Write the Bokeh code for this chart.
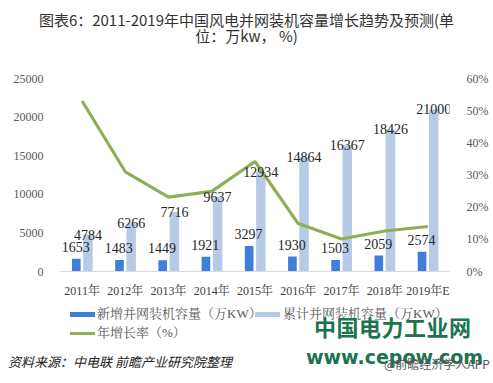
from bokeh.plotting import figure
from bokeh.layouts import column
from bokeh.models import (ColumnDataSource, FactorRange, Range1d, LinearAxis, Div,
                          FixedTicker, PrintfTickFormatter)
from bokeh.transform import dodge
from bokeh.core.properties import value
from bokeh.embed import file_html
from bokeh.resources import INLINE

years = ["2011年", "2012年", "2013年", "2014年", "2015年", "2016年", "2017年", "2018年", "2019年E"]
new_cap = [1653, 1483, 1449, 1921, 3297, 1930, 1503, 2059, 2574]
cum_cap = [4784, 6266, 7716, 9637, 12934, 14864, 16367, 18426, 21000]
growth = [53.0, 31.0, 23.1, 24.9, 34.2, 14.9, 10.1, 12.6, 14.0]
left_ticks = [0, 5000, 10000, 15000, 20000, 25000]
right_ticks = [0, 10, 20, 30, 40, 50, 60]

title1 = "图表6：2011-2019年中国风电并网装机容量增长趋势及预测(单"
title2 = "位：万kw，  %)"
legend_labels = ["新增并网装机容量（万KW）", "累计并网装机容量（万KW）", "年增长率（%）"]
source_text = "资料来源：中电联 前瞻产业研究院整理"
mark1 = "中国电力工业网"
mark2 = "www.cepow.com"
mark3 = "@前瞻经济学人APP"

BLUE = "#3f7fdb"
LIGHT = "#b7cae6"
GREEN = "#8fae55"
MARK = "#1b7350"
SERIF = "Liberation Serif, Noto Serif CJK SC, Noto Sans CJK SC"
SANS = "Noto Sans CJK SC"

W = 493
TITLE_H = 46
FIG_H = 254
BOT_H = 383 - TITLE_H - FIG_H

src = ColumnDataSource(dict(
    year=years, new=new_cap, cum=cum_cap, growth=growth,
    new_lbl=[str(v) for v in new_cap], cum_lbl=[str(v) for v in cum_cap],
))

p = figure(width=W, height=FIG_H, x_range=FactorRange(*years),
           y_range=Range1d(0, 25000), output_backend="svg", toolbar_location=None,
           min_border_left=60, min_border_right=44, min_border_top=32, min_border_bottom=28,
           margin=0)
p.outline_line_color = None
p.xgrid.visible = False
p.ygrid.visible = False

p.extra_y_ranges = {"pct": Range1d(0, 60)}

p.vbar(x=dodge("year", -0.135, range=p.x_range), top="new", width=0.2, source=src,
       fill_color=BLUE, line_color=None)
p.vbar(x=dodge("year", 0.135, range=p.x_range), top="cum", width=0.22, source=src,
       fill_color=LIGHT, line_color=None)
p.line(x="year", y="growth", y_range_name="pct", source=src, line_width=3.2, line_color=GREEN)

p.text(x=dodge("year", -0.15, range=p.x_range), y="new", text="new_lbl", source=src,
       y_offset=-12, text_align="center", text_baseline="middle",
       text_font=value("Liberation Serif"), text_font_size="14px", text_color="#262626")
p.text(x=dodge("year", 0.135, range=p.x_range), y="cum", text="cum_lbl", source=src,
       y_offset=0, text_align="center", text_baseline="middle",
       text_font=value("Liberation Serif"), text_font_size="14px", text_color="#262626")

# axes
yl = p.yaxis[0]
yl.ticker = FixedTicker(ticks=left_ticks)
yl.axis_line_color = None
yl.major_tick_line_color = None
yl.minor_tick_line_color = None
yl.major_label_standoff = 11
yl.major_label_text_font = "Liberation Serif"
yl.major_label_text_font_size = "12px"
yl.major_label_text_color = "#595959"

yr = LinearAxis(y_range_name="pct", ticker=FixedTicker(ticks=right_ticks),
                formatter=PrintfTickFormatter(format="%d%%"))
yr.axis_line_color = None
yr.major_tick_line_color = None
yr.minor_tick_line_color = None
yr.major_label_standoff = 11
yr.major_label_text_font = "Liberation Serif"
yr.major_label_text_font_size = "12px"
yr.major_label_text_color = "#595959"
p.add_layout(yr, "right")

xa = p.xaxis[0]
xa.axis_line_color = "#d9d9d9"
xa.axis_line_width = 1
xa.major_tick_line_color = None
xa.minor_tick_line_color = None
xa.major_label_standoff = 6
xa.major_label_text_font = SERIF
xa.major_label_text_font_size = "12px"
xa.major_label_text_color = "#404040"


def abs_text(txt, left, center_y, size, color, font, extra=""):
    lh = int(size * 1.3)
    top = center_y - lh / 2
    return (f'<div style="position:absolute;left:{left}px;top:{top}px;font-family:{font};'
            f'font-size:{size}px;line-height:{lh}px;color:{color};white-space:nowrap;{extra}">{txt}</div>')


def swatch(left, center_y, w, h, color):
    return (f'<div style="position:absolute;left:{left}px;top:{center_y - h / 2}px;width:{w}px;'
            f'height:{h}px;background:{color};"></div>')


title_html = (
    f'<div style="position:relative;width:{W}px;height:{TITLE_H}px;">'
    f'<div style="position:absolute;left:0;top:11px;width:{W}px;text-align:center;font-family:{SANS};'
    f'font-size:15px;line-height:18px;color:#333;white-space:nowrap;">{title1}</div>'
    f'<div style="position:absolute;left:0;top:27px;width:{W}px;text-align:center;font-family:{SANS};'
    f'font-size:15px;line-height:18px;color:#333;white-space:nowrap;">{title2}</div>'
    f'</div>'
)
title_div = Div(text=title_html, width=W, height=TITLE_H, margin=0)

# bottom region: y positions relative to its top (page y = TITLE_H + FIG_H + rel)
b0 = TITLE_H + FIG_H
bot_html = (
    f'<div style="position:relative;width:{W}px;height:{BOT_H}px;">'
    + swatch(70, 314 - b0, 25, 5, BLUE)
    + abs_text(legend_labels[0], 97, 314 - b0, 13, "#595959", SERIF)
    + swatch(255, 314 - b0, 25, 5, LIGHT)
    + abs_text(legend_labels[1], 283, 314 - b0, 13, "#595959", SERIF)
    + swatch(70, 333 - b0, 25, 3, GREEN)
    + abs_text(legend_labels[2], 97, 333 - b0, 13, "#595959", SERIF)
    + abs_text(source_text, 8, 362 - b0, 13, "#222", SANS, "font-style:italic;")
    + abs_text(mark1, 314, 326 - b0, 22, MARK, SANS, "font-weight:bold;letter-spacing:0.5px;")
    + abs_text(mark2, 306, 357 - b0, 19, MARK, "'DejaVu Sans'", "font-weight:bold;")
    + abs_text(mark3, 384, 363 - b0, 12, "#555", SANS)
    + '</div>'
)
bot_div = Div(text=bot_html, width=W, height=BOT_H, margin=0)

layout = column(title_div, p, bot_div, spacing=0)
open("out.html", "w").write(file_html(layout, INLINE))
